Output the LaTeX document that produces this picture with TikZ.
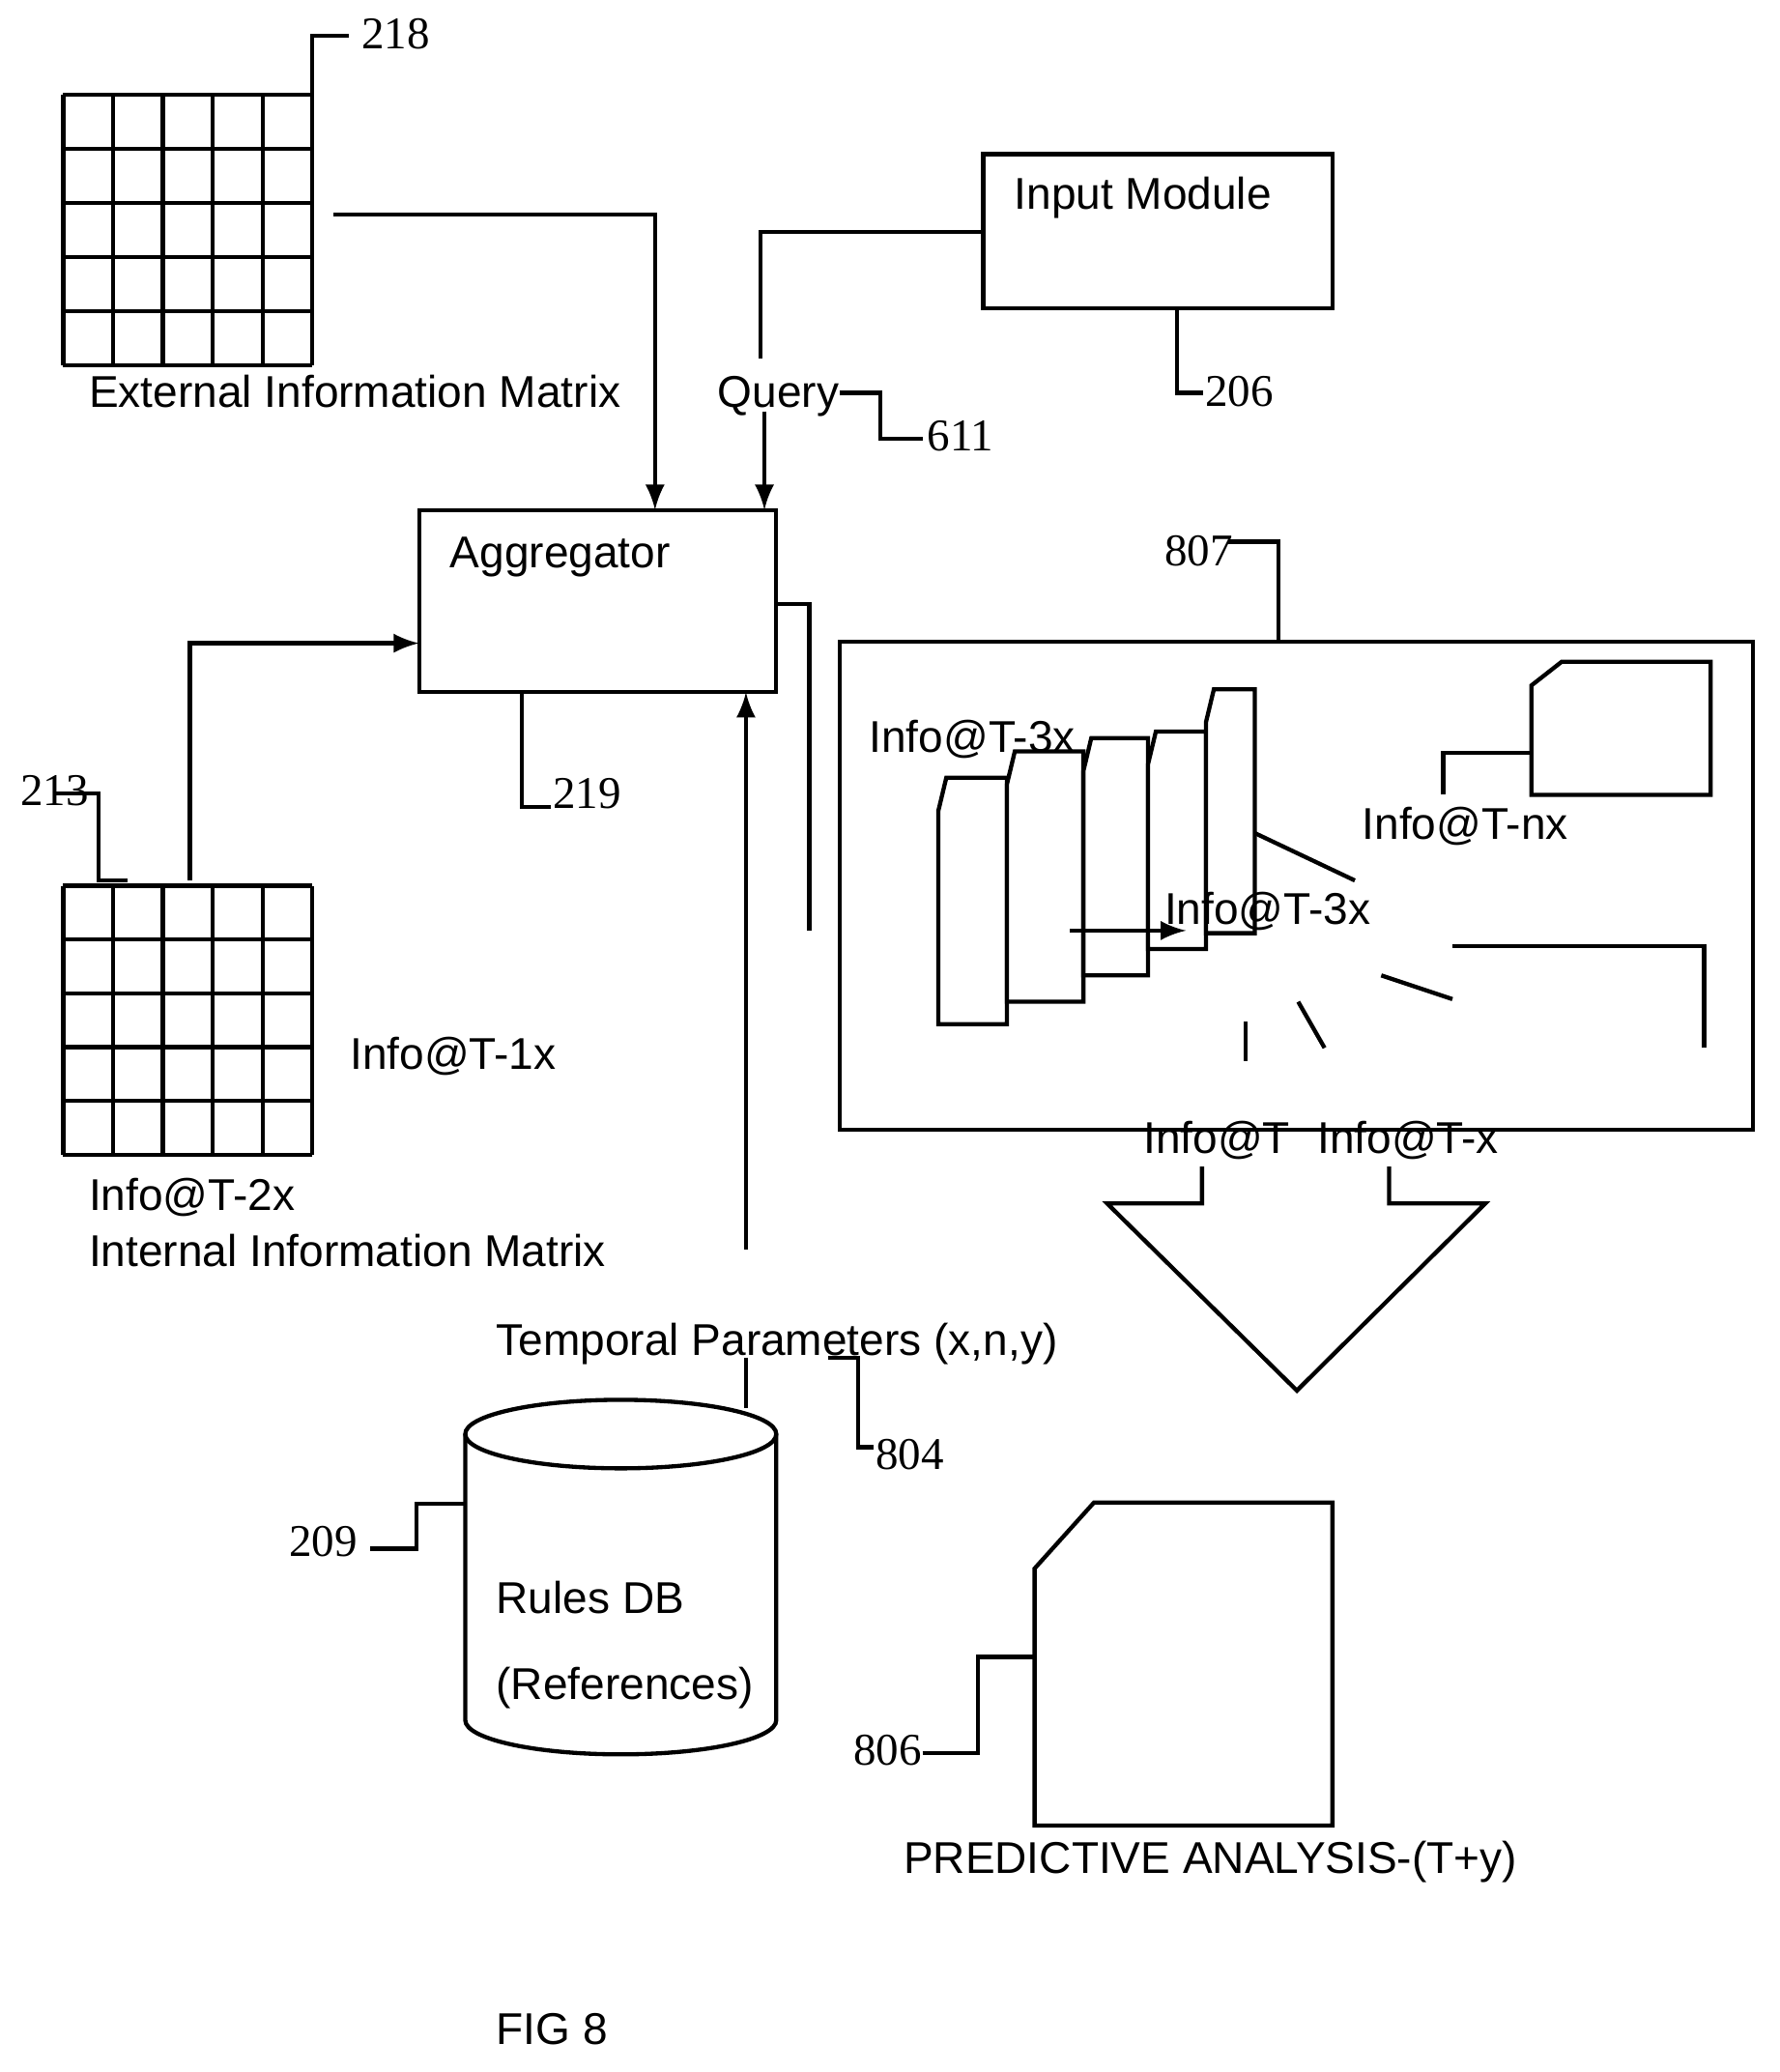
\documentclass[tikz,border=0pt]{standalone}
\usepackage{fontspec}
\setmainfont{Liberation Serif}
\setsansfont{Liberation Sans}
\begin{document}
\begin{tikzpicture}[x=0.01cm,y=-0.01cm,line width=0.9pt,
    lbl/.style={font=\sffamily\fontsize{9.6}{11}\selectfont,anchor=base west,inner sep=0},
    num/.style={font=\rmfamily\fontsize{9.8}{11}\selectfont,anchor=base west,inner sep=0},
    arr/.style={-latex},
    card/.style={draw,fill=white}]

    \useasboundingbox (0,0) rectangle (1350,1572);

    % External information matrix
    \foreach \i in {0,...,5} {
      \draw (48+37.8*\i,72) -- (48+37.8*\i,277);
      \draw (48,72+41*\i) -- (237,72+41*\i);
    }
    \coordinate (ext) at (253,163);
    \draw (237,72) -- (237,27) -- (265,27);
    \node[num] (n218) at (273,37) {218};
    \node[lbl] (extl) at (66,309) {External Information Matrix};

    % Input module and query
    \draw (746,117) rectangle (1011,234);
    \node[lbl] (inp) at (768,159) {Input Module};
    \draw (893,234) -- (893,298) -- (913,298);
    \node[num] (n206) at (913,308) {206};
    \node[lbl] (query) at (543,309) {Query};
    \draw (746,176) -- (577,176) -- (577,272);
    \draw (637,298) -- (668,298) -- (668,333) -- (700,333);
    \node[num] (n611) at (702,342) {611};

    % Aggregator
    \draw (318,387) rectangle (589,525);
    \coordinate (aggtop1) at (497,387);
    \coordinate (aggtop2) at (580,387);
    \node[lbl] (agg) at (340,431) {Aggregator};
    \draw[arr] (ext) -- (497,163) -- (aggtop1);
    \draw[arr] (580,312) -- (aggtop2);
    \draw (589,458) -- (614,458) -- (614,706);
    \draw (396,525) -- (396,612) -- (418,612);
    \node[num] (n219) at (418,613) {219};

    % Internal information matrix
    \foreach \i in {0,...,5} {
      \draw (48+37.8*\i,672) -- (48+37.8*\i,876);
      \draw (48,672+40.8*\i) -- (237,672+40.8*\i);
    }
    \draw[arr] (144,668) -- (144,488) -- (318,488);
    \node[num] (n213) at (14,611) {213};
    \draw (40,602) -- (75,602) -- (75,668) -- (97,668);
    \node[lbl] at (264,811) {Info@T-1x};
    \node[lbl] at (66,918) {Info@T-2x};
    \node[lbl] at (66,961) {Internal Information Matrix};
    \draw[arr] (566,948) -- (566,525);

    % Rules DB
    \node[lbl] (temp) at (375,1028) {Temporal Parameters (x,n,y)};
    \draw (566,1030) -- (566,1068);
    \draw (628,1030) -- (651,1030) -- (651,1098) -- (663,1098);
    \node[num] (n804) at (663,1115) {804};
    \draw (353,1088) -- (353,1305) arc[start angle=180,end angle=360,x radius=118,y radius=-26]
      -- (589,1088);
    \draw (471,1088) ellipse[x radius=118,y radius=26];
    \node[lbl] at (375,1224) {Rules DB};
    \node[lbl] at (375,1289) {(References)};
    \node[num] (n209) at (218,1181) {209};
    \draw (281,1175) -- (316,1175) -- (316,1141) -- (353,1141);

    % Time slices
    \draw (637,487) rectangle (1330,857);
    \node[num] (n807) at (882,429) {807};
    \draw (932,411) -- (970,411) -- (970,487);
    \foreach \xa/\xb/\ya/\yb in {712/764/590/777, 764/822/570/760, 822/871/560/740,
                                  871/915/555/720, 915/952/523/708}
      \draw[card] (\xa,\ya+25) -- (\xa+6,\ya) -- (\xb,\ya) -- (\xb,\yb) -- (\xa,\yb) -- cycle;
    \node[lbl] at (658,571) {Info@T-3x};
    \node[lbl] at (882,701) {Info@T-3x};
    \draw[arr] (812,706) -- (900,706);
    \draw (952,632) -- (1028,668);
    \draw (1162,520) -- (1185,502) -- (1298,502) -- (1298,603) -- (1162,603) -- cycle;
    \draw (1162,571) -- (1095,571) -- (1095,603);
    \node[lbl] at (1032,637) {Info@T-nx};
    \draw (1102,718) -- (1293,718) -- (1293,795);
    \draw (1048,740) -- (1102,758);
    \draw (985,760) -- (1005,795);
    \draw (945,775) -- (945,805);
    \node[lbl] at (866,875) {Info@T};
    \node[lbl] at (998,875) {Info@T-x};
    \draw (912,885) -- (912,913) -- (840,913) -- (984,1055) -- (1127,913) -- (1054,913) -- (1054,885);

    % Predictive analysis
    \draw (785,1190) -- (830,1140) -- (1011,1140) -- (1011,1385) -- (785,1385) -- cycle;
    \draw (700,1330) -- (742,1330) -- (742,1257) -- (785,1257);
    \node[num] (n806) at (646,1339) {806};
    \node[lbl] at (684,1421) {PREDICTIVE ANALYSIS-(T+y)};
    \node[lbl] at (375,1551) {FIG 8};

\end{tikzpicture}
\end{document}
